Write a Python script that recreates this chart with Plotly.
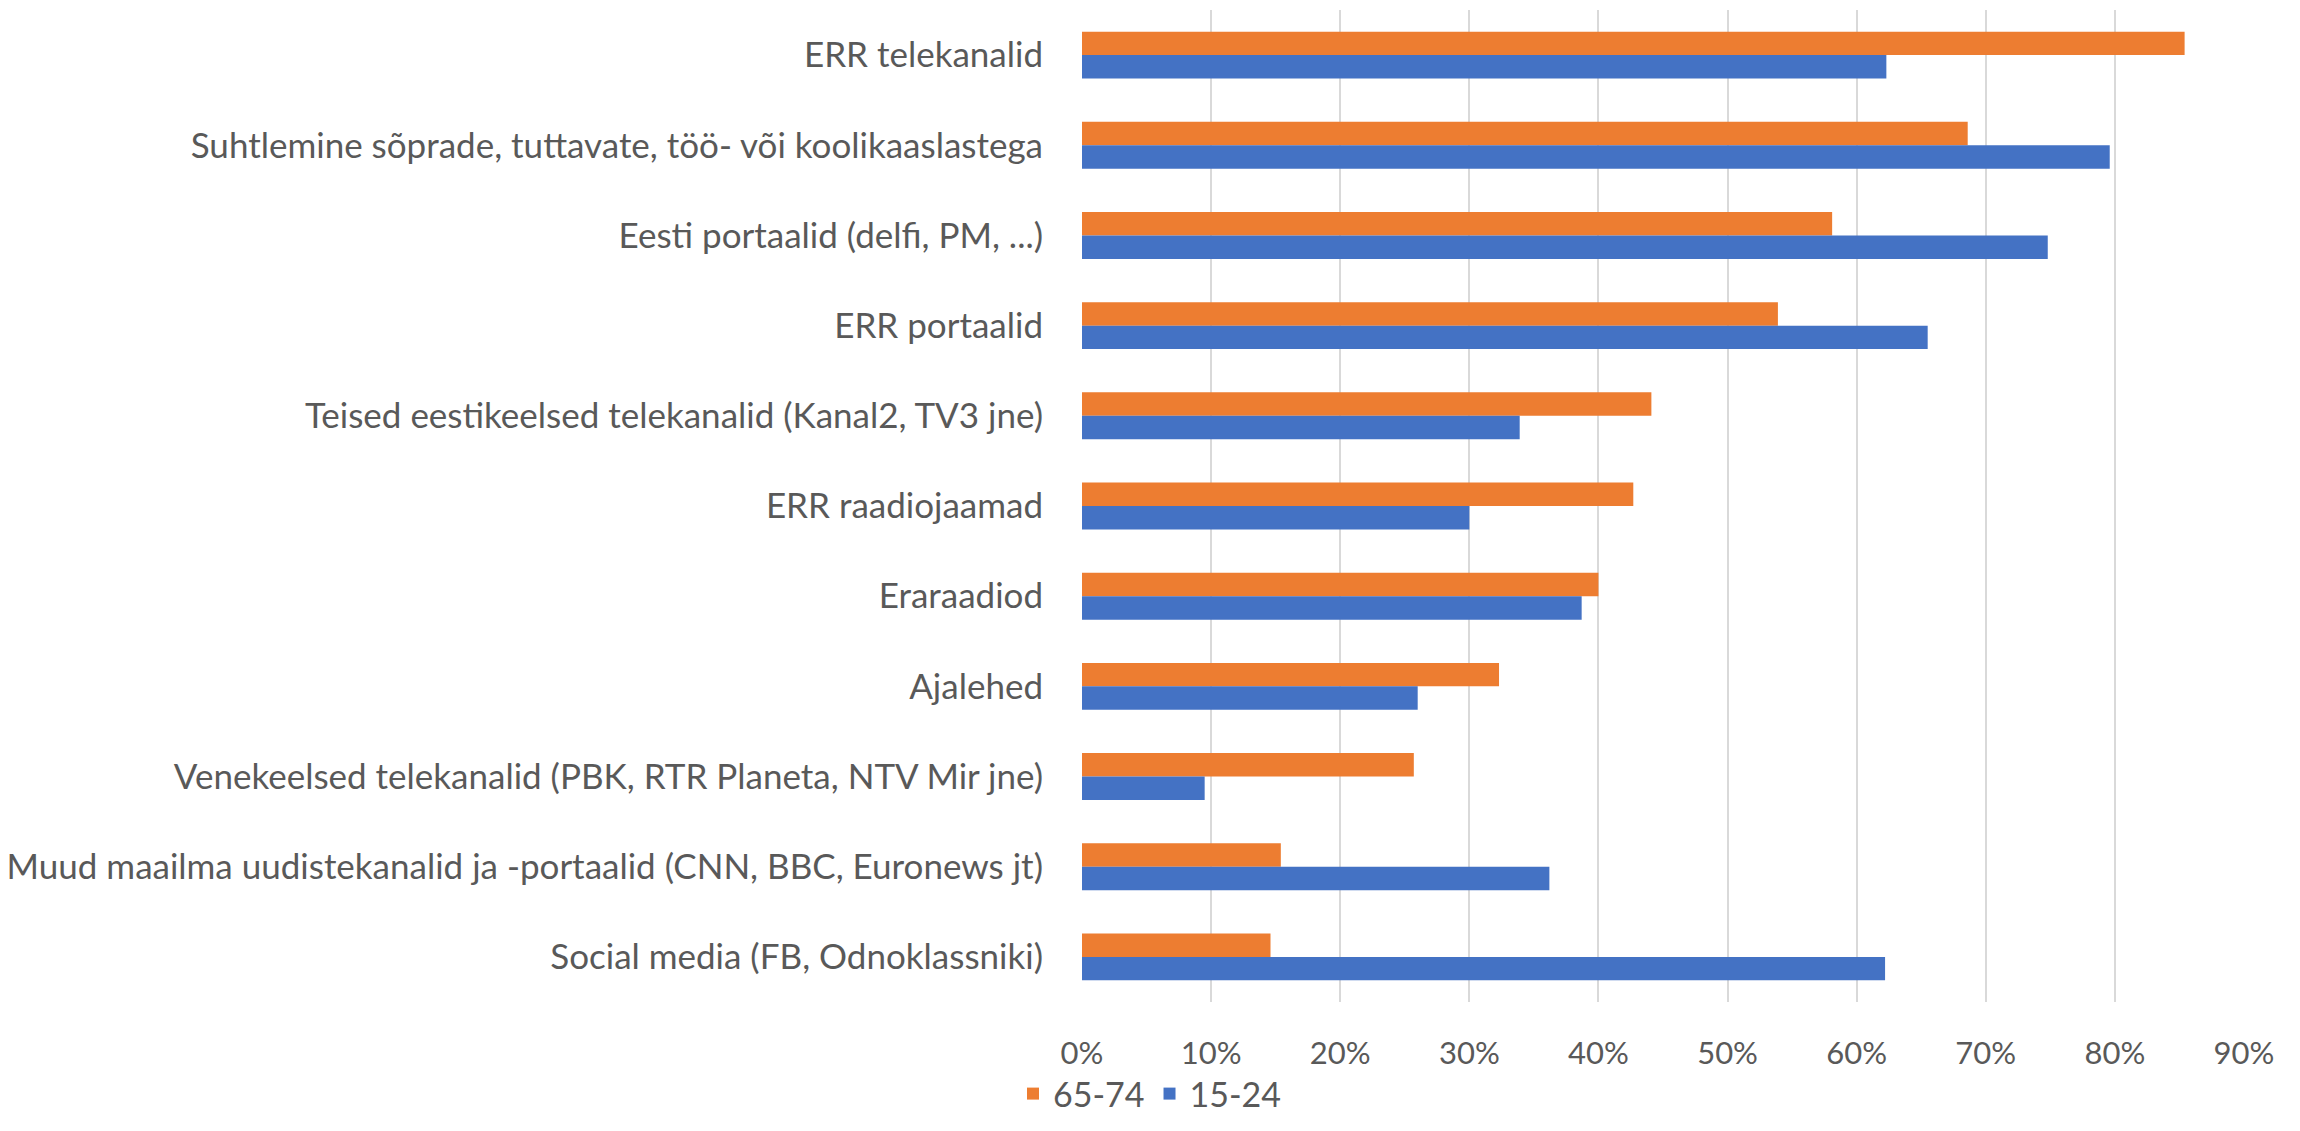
import plotly.graph_objects as go

categories = [
    "ERR telekanalid",
    "Suhtlemine sõprade, tuttavate, töö- või koolikaaslastega",
    "Eesti portaalid (delfi, PM, ...)",
    "ERR portaalid",
    "Teised eestikeelsed telekanalid (Kanal2, TV3 jne)",
    "ERR raadiojaamad",
    "Eraraadiod",
    "Ajalehed",
    "Venekeelsed telekanalid (PBK, RTR Planeta, NTV Mir jne)",
    "Muud maailma uudistekanalid ja -portaalid (CNN, BBC, Euronews jt)",
    "Social media (FB, Odnoklassniki)",
]
old_65_74 = [0.854, 0.686, 0.581, 0.539, 0.441, 0.427, 0.400, 0.323, 0.257, 0.154, 0.146]
young_15_24 = [0.623, 0.796, 0.748, 0.655, 0.339, 0.300, 0.387, 0.260, 0.095, 0.362, 0.622]
x_ticks = [0, 0.1, 0.2, 0.3, 0.4, 0.5, 0.6, 0.7, 0.8, 0.9]

# page body has an 8px margin, so the figure is a bit smaller than the window
W, H = 2284, 1115
FONT = "Lato"
TXT = "#595959"

fig = go.Figure()
fig.add_trace(go.Bar(
    y=categories, x=old_65_74, name="65-74", orientation="h",
    marker=dict(color="#ED7D31", line=dict(width=0)),
))
fig.add_trace(go.Bar(
    y=categories, x=young_15_24, name="15-24", orientation="h",
    marker=dict(color="#4472C4", line=dict(width=0)),
))

fig.update_layout(
    width=W, height=H,
    barmode="group", bargap=0.48, bargroupgap=0,
    margin=dict(l=1074, r=48, t=2, b=121),
    paper_bgcolor="white", plot_bgcolor="white",
    font=dict(family=FONT, size=35, color=TXT),
    showlegend=True,
    legend=dict(
        orientation="h", xref="container", yref="container",
        x=0.5, xanchor="center", y=0.0, yanchor="bottom",
        font=dict(size=34, color=TXT), itemwidth=30, traceorder="normal",
    ),
    xaxis=dict(
        range=[0, 0.9], tickvals=x_ticks, tickformat=".0%",
        tickfont=dict(size=31),
        showgrid=True, gridcolor="#D9D9D9", gridwidth=1.5,
        zeroline=False, showline=False, ticks="",
        automargin=False, ticklabelstandoff=30,
    ),
    yaxis=dict(
        autorange="reversed", showgrid=False, zeroline=False,
        showline=False, ticks="", automargin=False, ticklabelstandoff=38,
    ),
)

fig.write_html("out.html")
